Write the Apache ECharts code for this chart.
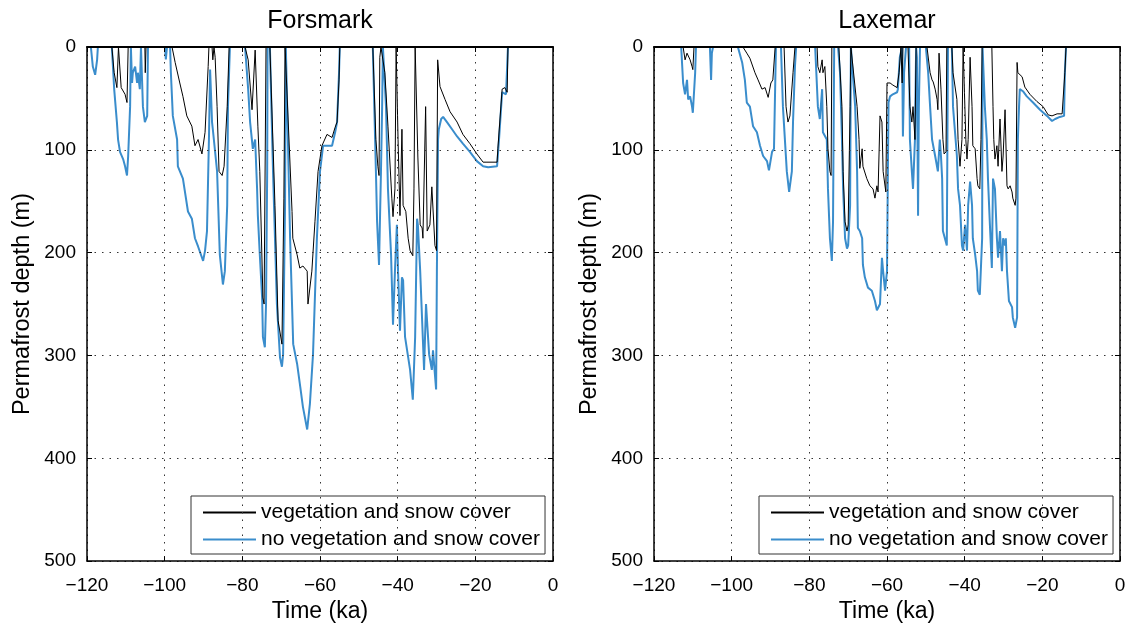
<!DOCTYPE html>
<html>
<head>
<meta charset="utf-8">
<script src="https://cdn.jsdelivr.net/npm/echarts@6/dist/echarts.min.js"></script>
<style>
  html, body { margin: 0; padding: 0; background: #fff; }
  #chart { width: 1134px; height: 628px; }
</style>
</head>
<body>
<div id="chart"></div>
<script>
// Site names and legend entries
const panelTitles = ['Forsmark', 'Laxemar'];
const seriesNames = ['vegetation and snow cover', 'no vegetation and snow cover'];

// Axis ranges: time in ka, permafrost depth in m
const timeRange = [-120, 0, 20];
const depthRange = [0, 500, 100];

// Forsmark, with vegetation and snow cover: [time (ka), depth (m)]
const forsmarkVeg = [
  [-120,0],[-113.6,0],[-113.0,25],[-112.3,39.5],[-111.9,0],[-111.2,39.5],[-110.7,41],[-110.2,46],[-109.7,54],[-109.4,0],
  [-105.1,0],[-105.0,25],[-104.8,0],
  [-98.1,0],[-97.3,15],[-96.1,35],[-95.3,48],[-94.3,67],[-93.0,77],[-92.2,96],[-91.4,90],[-90.4,104],[-89.6,83],[-88.8,19],[-88.6,0],
  [-87.8,0],[-87.6,12.5],[-87.3,0],[-87.0,10],[-86.5,58],[-86.0,121],[-85.2,125],[-84.7,116],[-83.9,58],[-83.4,0],
  [-79.3,0],[-78.5,12.5],[-77.5,61],[-76.7,3],[-76.0,77],[-75.5,121],[-74.7,244],[-74.4,250],[-73.9,0],
  [-72.9,0],[-71.6,154],[-70.8,266],[-69.8,289],[-69.3,147],[-69.0,0],
  [-68.5,0],[-67.2,160],[-67.0,186],[-65.9,202],[-65.2,215],[-64.4,213],[-63.3,218],[-63.1,250],[-62.1,218],[-61.3,170],[-60.5,121],
  [-59.5,96],[-58.2,85],[-56.9,88],[-56.1,78],[-55.6,73],[-55.1,32],[-54.9,0],
  [-46.4,0],[-45.6,90],[-45.1,116],[-44.8,125],[-44.6,10],[-44.3,0],
  [-43.8,0],[-43.3,25],[-42.5,77],[-41.5,147],[-41.2,165],[-40.7,138],[-40.4,0],
  [-40.2,0],[-39.9,90],[-39.4,164],[-38.9,80],[-38.6,154],[-37.9,160],[-37.3,186],[-36.8,198],[-36.1,203],[-35.8,138],[-35.5,0],
  [-35.0,0],[-34.8,107],[-34.2,173],[-33.7,176],[-33.5,186],[-32.8,58],[-32.4,179],[-31.7,173],[-31.2,136],[-30.4,193],[-30.0,198],
  [-29.7,12.5],[-29.1,38.5],[-27.8,51],[-26.5,63],[-24.7,73],[-23.2,85],[-21.4,94],[-19.6,104],[-18.0,112],[-17.0,112],[-14.4,112],
  [-14.2,99],[-13.1,41],[-12.4,39.5],[-11.8,44],[-11.6,0],[0,0]
];

// Forsmark, without vegetation and snow cover
const forsmarkBare = [
  [-120,0],[-119.0,0],[-118.5,19],[-117.9,27],[-117.4,12.5],[-117.2,0],
  [-113.6,0],[-113.0,41],[-112.3,73],[-112.0,90],[-111.5,102],[-110.7,109],[-110.2,116],[-109.7,125],[-109.4,106],[-108.9,58],[-108.7,0],
  [-108.4,35],[-108.2,25],[-107.6,19],[-107.1,35],[-106.9,25],[-106.4,41],[-106.1,0],
  [-105.8,0],[-105.6,58],[-105.1,73],[-104.5,67],[-104.3,0],
  [-99.9,0],[-99.7,12],[-99.4,0],
  [-98.6,0],[-98.4,25],[-97.9,67],[-96.8,90],[-96.6,116],[-95.3,128],[-94.0,160],[-93.0,167],[-92.2,186],[-91.4,194],[-90.1,208],
  [-89.6,198],[-89.1,179],[-88.6,90],[-88.3,22],[-87.8,73],[-87.6,80],[-86.5,121],[-85.8,202],[-85.0,231],[-84.5,218],[-83.9,154],[-83.7,58],[-83.2,0],
  [-79.3,0],[-78.5,41],[-78.0,73],[-77.3,99],[-76.7,90],[-76.2,138],[-76.0,164],[-75.5,202],[-74.9,244],[-74.7,282],[-74.2,292],[-73.9,250],[-73.6,121],[-73.5,0],
  [-72.9,0],[-72.1,121],[-71.1,250],[-70.3,302],[-69.8,311],[-69.5,299],[-69.0,154],[-68.8,0],
  [-68.4,0],[-67.7,186],[-66.9,289],[-65.9,308],[-65.1,330],[-64.4,350],[-63.3,372],[-62.6,347],[-61.8,299],[-60.8,186],[-60.0,121],
  [-59.2,96],[-58.2,96],[-56.9,96],[-56.1,83],[-55.6,73],[-55.1,25],[-54.9,0],
  [-46.4,0],[-45.6,121],[-45.3,170],[-44.8,212],[-44.3,121],[-44.0,58],[-43.8,0],
  [-43.5,0],[-43.0,58],[-42.5,138],[-41.7,202],[-41.2,270],[-40.7,218],[-40.2,173],[-39.9,218],[-39.4,276],[-38.9,224],[-38.6,227],
  [-38.1,282],[-37.6,282],[-36.8,314],[-36.1,343],[-35.5,282],[-35.0,167],[-34.8,173],[-34.2,218],[-33.7,266],[-33.2,314],[-32.7,250],
  [-32.4,250],[-31.9,299],[-31.2,314],[-30.9,295],[-30.1,333],[-29.9,218],[-29.6,90],[-29.4,80],[-28.8,70],[-28.3,68],[-27.3,73],
  [-26.0,80],[-24.7,87],[-23.2,94],[-21.4,102],[-19.6,111],[-18.0,116],[-16.7,117],[-14.4,116],[-13.9,90],[-13.1,44],[-12.6,44],
  [-12.1,46],[-11.6,0],[0,0]
];

// Laxemar, with vegetation and snow cover
const laxemarVeg = [
  [-120,0],[-112.5,0],[-112.0,12.5],[-111.5,6],[-110.7,12.5],[-110.2,19],[-110.0,22],[-109.7,0],
  [-97.1,0],[-96.1,6],[-95.3,11],[-94.0,25],[-93.2,32],[-92.2,41],[-91.4,39.5],[-90.6,49],[-89.9,35],[-89.4,32],[-88.8,0],
  [-86.5,0],[-86.0,58],[-85.5,73],[-85.0,67],[-84.2,25],[-83.7,0],
  [-78.0,0],[-77.8,19],[-77.3,25],[-76.7,12.5],[-76.5,25],[-76.0,19],[-75.5,58],[-75.2,99],[-74.7,121],[-74.4,125],[-74.2,0],
  [-72.4,0],[-71.6,58],[-71.3,121],[-70.8,170],[-70.3,179],[-70.0,173],[-69.5,58],[-69.3,0],
  [-68.8,0],[-67.7,58],[-67.2,90],[-67.0,118],[-66.4,99],[-66.2,116],[-65.2,128],[-64.4,135],[-63.6,138],[-63.1,147],[-62.6,135],
  [-62.3,141],[-61.8,67],[-61.3,73],[-61.0,121],[-60.3,141],[-60.0,35],[-59.2,35],[-58.5,37],[-57.4,39.5],[-56.9,25],[-56.4,0],
  [-56.1,35],[-55.9,0],
  [-54.6,0],[-54.1,58],[-53.6,73],[-53.3,58],[-52.8,90],[-52.5,0],
  [-49.7,0],[-48.9,25],[-48.4,32],[-48.1,34],[-47.6,41],[-47.1,51],[-46.9,61],[-46.6,6],[-46.1,41],[-45.6,90],[-45.3,104],[-44.8,102],[-44.6,0],
  [-43.3,0],[-43.0,25],[-42.0,51],[-41.7,90],[-41.2,116],[-40.7,90],[-40.4,0],
  [-39.9,0],[-39.7,90],[-39.4,109],[-39.1,90],[-38.6,10],[-38.1,58],[-37.9,96],[-37.3,99],[-36.8,128],[-36.6,135],[-36.1,138],[-35.8,90],[-35.5,0],
  [-33.0,0],[-32.7,58],[-32.5,90],[-32.2,109],[-31.7,96],[-31.4,116],[-30.9,70],[-30.4,121],[-30.1,106],[-29.6,61],[-29.1,135],
  [-28.8,138],[-28.3,135],[-27.8,141],[-27.6,147],[-27.0,154],[-26.8,147],[-26.5,15],[-26.3,25],[-25.8,25],[-25.2,29],[-24.5,39],
  [-23.2,46],[-21.4,53],[-19.8,58],[-18.5,66],[-17.5,67],[-16.2,65],[-14.9,65],[-14.4,64],[-14.2,25],[-13.9,0],[0,0]
];

// Laxemar, without vegetation and snow cover
const laxemarBare = [
  [-120,0],[-113.0,0],[-112.5,35],[-112.0,46],[-111.5,32],[-111.2,51],[-110.7,48],[-110.2,58],[-110.0,64],[-109.4,25],[-109.2,0],
  [-105.6,0],[-105.3,32],[-105.1,6],[-104.8,0],
  [-98.4,0],[-97.3,15],[-96.6,32],[-96.1,54],[-95.3,58],[-94.5,77],[-93.5,83],[-92.7,96],[-91.9,106],[-90.9,111],[-90.4,120],
  [-89.6,102],[-89.1,99],[-88.6,0],
  [-87.3,0],[-86.8,58],[-85.8,121],[-85.2,141],[-84.5,121],[-84.2,73],[-83.7,19],[-83.4,0],
  [-78.5,0],[-77.8,58],[-77.3,70],[-76.7,41],[-76.5,83],[-75.5,90],[-75.2,138],[-74.7,186],[-74.2,208],[-73.9,170],[-73.6,0],
  [-72.6,0],[-72.1,25],[-71.6,90],[-71.3,138],[-70.8,186],[-70.3,196],[-70.0,193],[-69.5,154],[-69.3,0],
  [-68.8,0],[-68.2,58],[-67.7,121],[-67.5,176],[-67.0,179],[-66.4,186],[-66.2,212],[-65.7,224],[-64.9,234],[-63.9,237],[-63.1,247],
  [-62.6,256],[-61.8,250],[-61.3,205],[-61.0,218],[-60.5,237],[-60.0,218],[-59.7,90],[-59.6,54],[-59.2,48],[-58.5,46],[-57.4,44],
  [-57.2,41],[-56.7,10],[-56.1,0],[-55.9,87],[-55.6,25],[-55.1,0],
  [-54.3,0],[-54.1,90],[-53.6,121],[-53.3,138],[-52.8,90],[-52.5,0],[-52.3,10],[-52.0,164],[-51.8,58],[-51.5,0],
  [-50.0,0],[-49.4,25],[-48.9,58],[-48.4,90],[-47.6,106],[-46.9,121],[-46.4,90],[-46.1,106],[-45.8,128],[-45.6,179],[-45.1,186],
  [-44.6,193],[-44.3,0],
  [-43.3,0],[-43.0,58],[-42.0,106],[-41.7,138],[-41.2,154],[-40.7,193],[-40.4,198],[-39.9,173],[-39.4,198],[-39.1,154],[-38.6,131],
  [-38.1,154],[-37.9,186],[-37.3,202],[-36.8,218],[-36.6,237],[-36.1,241],[-35.5,186],[-35.4,0],[-35.2,0],
  [-34.8,58],[-34.3,90],[-34.0,128],[-33.5,173],[-33.0,215],[-32.7,128],[-32.2,138],[-31.7,186],[-31.4,205],[-30.9,179],[-30.4,218],
  [-30.1,186],[-29.6,193],[-29.4,186],[-29.1,218],[-28.6,247],[-27.8,253],[-27.6,263],[-27.0,273],[-26.5,263],[-26.3,90],[-26.0,58],
  [-25.8,41],[-25.0,43],[-24.0,48],[-22.4,54],[-20.6,61],[-18.8,67],[-17.5,72],[-16.7,70],[-15.5,68],[-14.4,67],[-14.2,25],[-13.9,0],[0,0]
];

const FONT = '"Liberation Sans", Arial, Helvetica, sans-serif';
const BLACK = '#000000';
const BLUE = '#3a8dcc';

const gridBoxes = [
  { left: 87, top: 47, width: 466, height: 518 },
  { left: 654, top: 47, width: 466, height: 518 }
];

const minus = v => String(v).replace('-', '\u2212');

function bottomAxis(i) {
  return {
    type: 'value', gridIndex: i, position: 'bottom',
    min: timeRange[0], max: timeRange[1], interval: timeRange[2],
    name: 'Time (ka)', nameLocation: 'middle', nameGap: 33,
    nameTextStyle: { fontFamily: FONT, fontSize: 23, color: BLACK },
    axisLine: { show: true, onZero: false, lineStyle: { color: BLACK, width: 1.5 } },
    axisTick: { show: true, inside: true, length: 5, lineStyle: { color: BLACK } },
    axisLabel: { show: true, margin: 15, fontFamily: FONT, fontSize: 19, color: BLACK, formatter: minus },
    splitLine: { show: true, lineStyle: { color: '#333', width: 1, type: [1.5, 6] } },
    z: 5
  };
}
function topAxis(i) {
  return {
    type: 'value', gridIndex: i, position: 'top',
    min: timeRange[0], max: timeRange[1], interval: timeRange[2],
    axisLine: { show: true, onZero: false, lineStyle: { color: BLACK, width: 2 } },
    axisTick: { show: true, inside: true, length: 5, lineStyle: { color: BLACK } },
    axisLabel: { show: false },
    splitLine: { show: false },
    z: 5
  };
}
function leftAxis(i) {
  return {
    type: 'value', gridIndex: i, position: 'left', inverse: true,
    min: depthRange[0], max: depthRange[1], interval: depthRange[2],
    name: 'Permafrost depth (m)', nameLocation: 'middle', nameGap: 52,
    nameTextStyle: { fontFamily: FONT, fontSize: 23.5, color: BLACK },
    axisLine: { show: true, onZero: false, lineStyle: { color: BLACK, width: 1.5 } },
    axisTick: { show: true, inside: true, length: 5, lineStyle: { color: BLACK } },
    axisLabel: { show: true, margin: 11, fontFamily: FONT, fontSize: 19, color: BLACK },
    splitLine: { show: true, lineStyle: { color: '#333', width: 1, type: [1.5, 6] } },
    z: 5
  };
}
function rightAxis(i) {
  return {
    type: 'value', gridIndex: i, position: 'right', inverse: true,
    min: depthRange[0], max: depthRange[1], interval: depthRange[2],
    axisLine: { show: true, onZero: false, lineStyle: { color: BLACK, width: 1.5 } },
    axisTick: { show: true, inside: true, length: 5, lineStyle: { color: BLACK } },
    axisLabel: { show: false },
    splitLine: { show: false },
    z: 5
  };
}

function lineSeries(name, data, panel, color, width, z) {
  return {
    name, type: 'line', data,
    xAxisIndex: panel, yAxisIndex: panel,
    showSymbol: false, symbol: 'none',
    lineStyle: { color, width },
    itemStyle: { color },
    clip: true, animation: false, z
  };
}

// Legend shows plain line samples (the marker is made invisible)
function legendFor(left) {
  return {
    left, top: 496, orient: 'vertical',
    data: seriesNames,
    itemWidth: 53, itemHeight: 14, itemGap: 6,
    padding: [6, 5, 4, 11],
    borderColor: '#333', borderWidth: 1,
    itemStyle: { opacity: 0, borderWidth: 0 },
    textStyle: { fontFamily: FONT, fontSize: 21, color: BLACK },
    selectedMode: false
  };
}

const chart = echarts.init(document.getElementById('chart'), null, { renderer: 'canvas' });
chart.setOption({
  backgroundColor: '#ffffff',
  animation: false,
  title: panelTitles.map((t, i) => ({
    text: t,
    left: gridBoxes[i].left + gridBoxes[i].width / 2,
    top: 9,
    textAlign: 'center',
    padding: 0,
    textStyle: { fontFamily: FONT, fontSize: 25, fontWeight: 'normal', color: BLACK }
  })),
  grid: gridBoxes.map(g => Object.assign({ containLabel: false }, g)),
  xAxis: [bottomAxis(0), bottomAxis(1), topAxis(0), topAxis(1)],
  yAxis: [leftAxis(0), leftAxis(1), rightAxis(0), rightAxis(1)],
  legend: [legendFor(191), legendFor(759)],
  series: [
    lineSeries(seriesNames[1], forsmarkBare, 0, BLUE, 2, 2),
    lineSeries(seriesNames[0], forsmarkVeg, 0, BLACK, 1, 3),
    lineSeries(seriesNames[1], laxemarBare, 1, BLUE, 2, 2),
    lineSeries(seriesNames[0], laxemarVeg, 1, BLACK, 1, 3)
  ]
});
</script>
</body>
</html>
